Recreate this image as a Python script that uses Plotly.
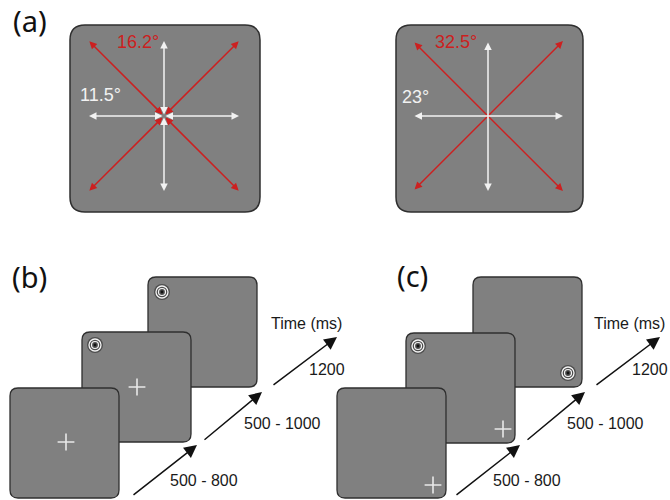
import plotly.graph_objects as go

# ---- values shown in the figure ----
# panel (a): eccentricities (deg) of cardinal (white) and diagonal (red) targets,
# one pair per display condition
cardinal_ecc = [11.5, 23]
diagonal_ecc = [16.2, 32.5]
# panels (b)/(c): duration of each frame in the trial sequence
durations = ["500 - 800", "500 - 1000", "1200"]
time_label = "Time (ms)"
panel_labels = ["(a)", "(b)", "(c)"]

# ---- layout geometry (pixels, y grows downward) ----
W, H = 670, 500
GRAY = "#808080"
EDGE = "#2f2f2f"
RED = "#cc2020"
WHITE = "#f2f2f2"

a_boxes = [(70, 25, 260, 212), (396, 25, 583, 212)]
a_centers = [(164, 116), (488, 116)]
a_radius_px = 75          # drawn length of the cardinal arrows
a_inner_heads = [True, False]
a_red_label = [(-49, 42), (-55, 42)]
a_white_label = [(-86, 95), (-88, 97)]

seq_size = (109, 110)
seq_frames = {
    "b": [(10, 388), (82, 332), (148, 277)],
    "c": [(337, 388), (406, 333), (473, 277)],
}
# fixation cross / target positions relative to the frame's top-left corner
seq_cross = {"b": [(56, 54), (55, 55), None], "c": [(96, 97), (97, 96), None]}
seq_target = {"b": [None, (13, 13), (14, 15)], "c": [None, (12, 13), (95, 96)]}

seq_shift = {"b": 0, "c": 323}
time_heads = [(197, 445), (262, 392), (337, 337)]
time_starts = [(132, 496), (203, 441), (272, 386)]
dur_text_pos = [(204, 480), (282, 423), (327, 369)]
time_text_pos = (306, 323)
label_pos = {"(a)": (30, 20), "(b)": (29, 276), "(c)": (412, 275)}


def rounded_rect(x0, y0, x1, y1, r):
    return (f"M{x0 + r},{y0} L{x1 - r},{y0} Q{x1},{y0} {x1},{y0 + r} "
            f"L{x1},{y1 - r} Q{x1},{y1} {x1 - r},{y1} L{x0 + r},{y1} "
            f"Q{x0},{y1} {x0},{y1 - r} L{x0},{y0 + r} Q{x0},{y0} {x0 + r},{y0} Z")


shapes = []
annotations = []


def arrow(x0, y0, x1, y1, color, width=1.5, size=1.0, both=False, head=2):
    d = dict(x=x1, y=y1, ax=x0, ay=y0, xref="x", yref="y", axref="x", ayref="y",
             text="", showarrow=True, arrowhead=head, arrowsize=size,
             arrowwidth=width, arrowcolor=color, standoff=0, startstandoff=0)
    if both:
        d.update(arrowside="end+start", startarrowhead=head, startarrowsize=size)
    annotations.append(d)


# ---- panel (a): target layouts ----
for i, (box, (cx, cy)) in enumerate(zip(a_boxes, a_centers)):
    shapes.append(dict(type="path", path=rounded_rect(*box, 15), xref="x", yref="y",
                       fillcolor=GRAY, line=dict(color=EDGE, width=1.5), layer="below"))
    px_per_deg = a_radius_px / cardinal_ecc[i]
    rc = cardinal_ecc[i] * px_per_deg
    rd = diagonal_ecc[i] * px_per_deg / 2 ** 0.5
    card_dirs = [(1, 0), (-1, 0), (0, 1), (0, -1)]
    diag_dirs = [(1, 1), (-1, 1), (1, -1), (-1, -1)]
    if a_inner_heads[i]:
        # each ray starts at fixation, with an inward head marking the centre
        for dx, dy in diag_dirs:
            arrow(cx, cy, cx + dx * rd, cy + dy * rd, RED, both=True)
        for dx, dy in card_dirs:
            arrow(cx, cy, cx + dx * rc, cy + dy * rc, WHITE, both=True)
    else:
        arrow(cx - rd, cy - rd, cx + rd, cy + rd, RED, both=True)
        arrow(cx - rd, cy + rd, cx + rd, cy - rd, RED, both=True)
        arrow(cx - rc, cy, cx + rc, cy, WHITE, both=True)
        arrow(cx, cy - rc, cx, cy + rc, WHITE, both=True)
    ox, oy = a_red_label[i]
    annotations.append(dict(x=cx + ox, y=oy, xref="x", yref="y", showarrow=False,
                            text=f"{diagonal_ecc[i]}°", xanchor="left", yanchor="middle",
                            font=dict(family="Liberation Sans, Arial", size=18, color=RED)))
    ox, oy = a_white_label[i]
    annotations.append(dict(x=cx + ox, y=oy, xref="x", yref="y", showarrow=False,
                            text=f"{cardinal_ecc[i]:g}°", xanchor="left", yanchor="middle",
                            font=dict(family="Liberation Sans, Arial", size=18, color=WHITE)))

# ---- panels (b) and (c): trial sequences ----
cross_x, cross_y, targ_x, targ_y = [], [], [], []
sw, sh = seq_size
for key, frames in seq_frames.items():
    # back frame first so that nearer frames overlap it
    for j in reversed(range(len(frames))):
        x0, y0 = frames[j]
        shapes.append(dict(type="path", path=rounded_rect(x0, y0, x0 + sw, y0 + sh, 8),
                           xref="x", yref="y", fillcolor=GRAY,
                           line=dict(color=EDGE, width=1.3), layer="below"))
    for j, (x0, y0) in enumerate(frames):
        if seq_cross[key][j]:
            cross_x.append(x0 + seq_cross[key][j][0])
            cross_y.append(y0 + seq_cross[key][j][1])
        if seq_target[key][j]:
            targ_x.append(x0 + seq_target[key][j][0])
            targ_y.append(y0 + seq_target[key][j][1])

    s = seq_shift[key]
    for (tx, ty), (hx, hy) in zip(time_starts, time_heads):
        arrow(tx + s, ty, hx + s, hy, "#111111", width=1.5, size=1.7)
    for txt, (x, y) in zip(durations, dur_text_pos):
        annotations.append(dict(x=x + s, y=y, xref="x", yref="y", showarrow=False,
                                text=txt, xanchor="center", yanchor="middle",
                                font=dict(family="Liberation Sans, Arial", size=16,
                                          color="#1a1a1a")))
    annotations.append(dict(x=time_text_pos[0] + s, y=time_text_pos[1], xref="x", yref="y",
                            showarrow=False, text=time_label, xanchor="center",
                            yanchor="middle",
                            font=dict(family="Liberation Sans, Arial", size=16,
                                      color="#1a1a1a")))

for lab in panel_labels:
    x, y = label_pos[lab]
    annotations.append(dict(x=x, y=y, xref="x", yref="y", showarrow=False, text=lab,
                            xanchor="center", yanchor="middle",
                            font=dict(family="Noto Sans, Open Sans", size=29,
                                      color="#111111")))

fig = go.Figure()
# fixation crosses
fig.add_trace(go.Scatter(x=cross_x, y=cross_y, mode="markers", hoverinfo="skip",
                         marker=dict(symbol="cross-thin", size=12, color="#e8e8e8",
                                     line=dict(color="#e8e8e8", width=1.6))))
# concentric-ring targets (open symbols take their stroke from marker.color)
fig.add_trace(go.Scatter(x=targ_x, y=targ_y, mode="markers", hoverinfo="skip",
                         marker=dict(symbol="circle", size=16, color="#4d4d4d",
                                     line=dict(width=0))))
fig.add_trace(go.Scatter(x=targ_x, y=targ_y, mode="markers", hoverinfo="skip",
                         marker=dict(symbol="circle-open", size=12, color="#f4f4f4",
                                     line=dict(color="#f4f4f4", width=1.3))))
fig.add_trace(go.Scatter(x=targ_x, y=targ_y, mode="markers", hoverinfo="skip",
                         marker=dict(symbol="circle-open", size=7, color="#f4f4f4",
                                     line=dict(color="#f4f4f4", width=1.2))))
fig.add_trace(go.Scatter(x=targ_x, y=targ_y, mode="markers", hoverinfo="skip",
                         marker=dict(symbol="circle", size=2.8, color="#111111",
                                     line=dict(width=0))))

fig.update_layout(
    width=W, height=H, margin=dict(l=0, r=0, t=0, b=0),
    paper_bgcolor="white", plot_bgcolor="white", showlegend=False,
    shapes=shapes, annotations=annotations,
    xaxis=dict(range=[0, W], visible=False, fixedrange=True),
    yaxis=dict(range=[H, 0], visible=False, fixedrange=True),
)

fig.write_html("out.html", config={"displayModeBar": False})
